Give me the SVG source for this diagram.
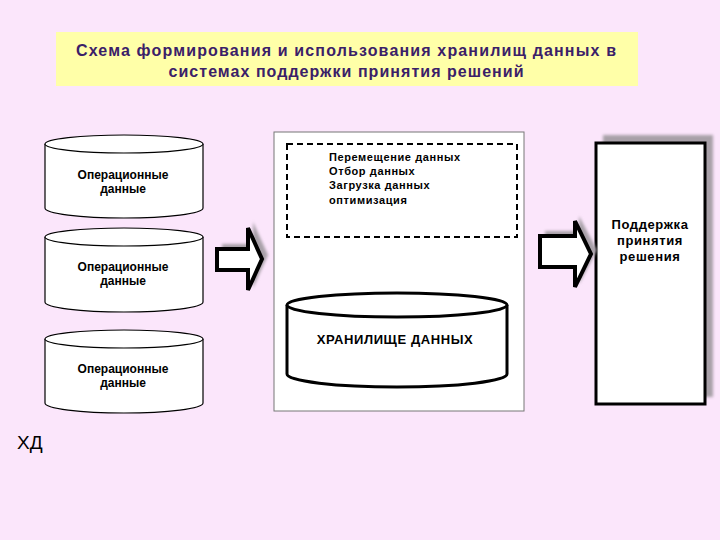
<svg xmlns="http://www.w3.org/2000/svg" width="720" height="540" viewBox="0 0 720 540">
<defs>
<style>
.t{font-family:"Liberation Sans",Arial,sans-serif;fill:#000}
.b{font-weight:bold}
.cyl{fill:#fff;stroke:#000;stroke-width:1.2}
.cylb{fill:#fff;stroke:#000;stroke-width:3}
.arr{fill:#fff;stroke:#000;stroke-width:4;stroke-linejoin:miter}
.sh{fill:#a8a0a8}
</style>
<filter id="blur" x="-20%" y="-20%" width="140%" height="140%"><feGaussianBlur stdDeviation="1.5"/></filter>
</defs>
<rect width="720" height="540" fill="#fbe6fb"/>
<g id="title">
<rect x="56" y="32" width="582" height="54" fill="#ffffa8"/>
<text class="t b" x="346" y="56" font-size="16" text-anchor="middle" textLength="540" lengthAdjust="spacing" style="fill:#3a2068">Схема формирования и использования хранилищ данных в</text>
<text class="t b" x="346" y="77" font-size="16" text-anchor="middle" textLength="355" lengthAdjust="spacing" style="fill:#3a2068">системах поддержки принятия решений</text>
</g>
<g id="op1">
<path class="cyl" d="M45,144 V208 A79,10 0 0 0 203,208 V144"/>
<ellipse class="cyl" cx="124" cy="144" rx="79" ry="9"/>
<text class="t b" x="123" y="179" font-size="12" text-anchor="middle">Операционные</text>
<text class="t b" x="123" y="193" font-size="12" text-anchor="middle">данные</text>
</g>
<g id="op2">
<path class="cyl" d="M45,237 V302 A79,10 0 0 0 203,302 V237"/>
<ellipse class="cyl" cx="124" cy="237" rx="79" ry="9"/>
<text class="t b" x="123" y="271" font-size="12" text-anchor="middle">Операционные</text>
<text class="t b" x="123" y="285" font-size="12" text-anchor="middle">данные</text>
</g>
<g id="op3">
<path class="cyl" d="M45,339 V403 A79,10 0 0 0 203,403 V339"/>
<ellipse class="cyl" cx="124" cy="339" rx="79" ry="9"/>
<text class="t b" x="123" y="373" font-size="12" text-anchor="middle">Операционные</text>
<text class="t b" x="123" y="387" font-size="12" text-anchor="middle">данные</text>
</g>
<g id="middle">
<rect x="274" y="132" width="250" height="279" fill="#fff" stroke="#777" stroke-width="1"/>
<rect x="287" y="144" width="230" height="93" fill="#fff" stroke="#000" stroke-width="2" stroke-dasharray="6,4"/>
<text class="t b" x="329" y="161" font-size="11" letter-spacing="0.6">Перемещение данных</text>
<text class="t b" x="329" y="175" font-size="11" letter-spacing="0.6">Отбор данных</text>
<text class="t b" x="329" y="189" font-size="11" letter-spacing="0.6">Загрузка данных</text>
<text class="t b" x="329" y="204" font-size="11" letter-spacing="0.6">оптимизация</text>
</g>
<g id="storage">
<path class="cylb" d="M287,305 V374 A110,13 0 0 0 507,374 V305"/>
<ellipse class="cylb" cx="397" cy="305" rx="110" ry="12"/>
<text class="t b" x="395" y="344" font-size="13" text-anchor="middle" letter-spacing="0.6">ХРАНИЛИЩЕ ДАННЫХ</text>
</g>
<g id="decision">
<rect x="603" y="135" width="110" height="262" fill="#a8a0a8" filter="url(#blur)"/>
<rect x="596" y="143" width="109" height="261" fill="#fff" stroke="#000" stroke-width="3"/>
<text class="t b" x="650" y="229" font-size="13" text-anchor="middle" letter-spacing="0.6">Поддержка</text>
<text class="t b" x="650" y="245" font-size="13" text-anchor="middle" letter-spacing="0.6">принятия</text>
<text class="t b" x="650" y="261" font-size="13" text-anchor="middle" letter-spacing="0.6">решения</text>
</g>
<g id="connectors">
<polygon class="sh" filter="url(#blur)" points="222,244 253,244 253,222 268,255 253,288 253,266 222,266"/>
<polygon class="arr" points="217,249 248,249 248,228 262,259 248,290 248,270 217,270"/>
<polygon class="sh" filter="url(#blur)" points="545,231 579,231 579,216 597,250 579,284 579,262 545,262"/>
<polygon class="arr" points="540,236 575,236 575,221 591,254 575,287 575,267 540,267"/>
</g>
<text class="t" x="17" y="449" font-size="19">ХД</text>
</svg>
